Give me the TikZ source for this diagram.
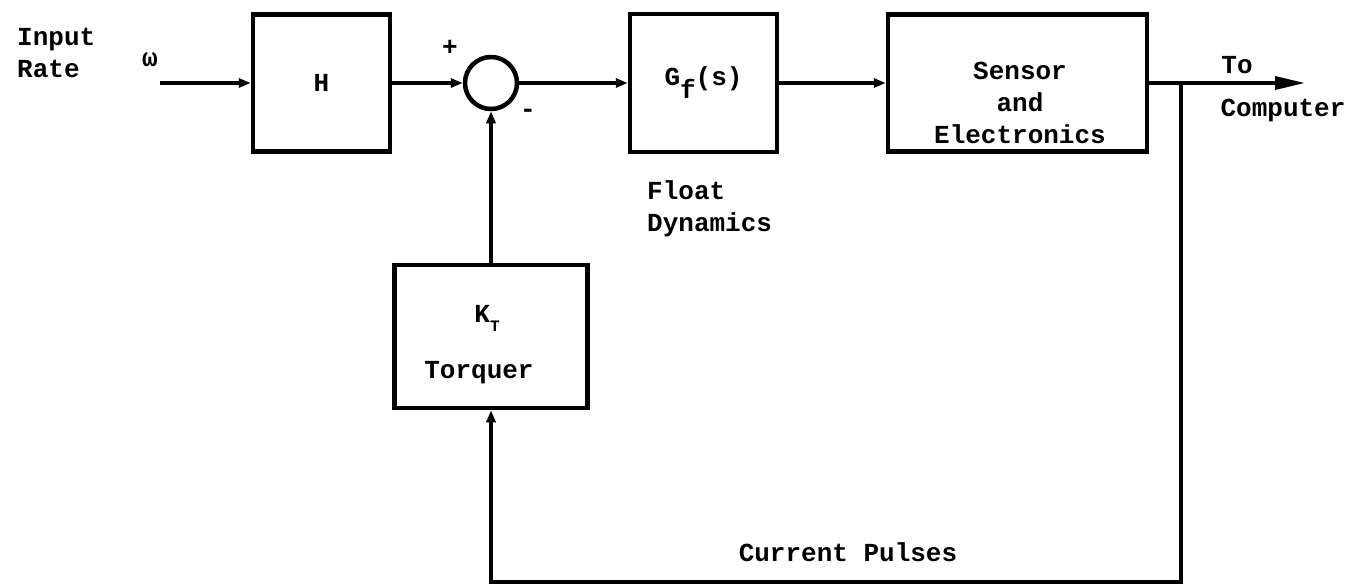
\documentclass[tikz,border=0pt]{standalone}
\usepackage{fontspec}
\setmainfont{Liberation Mono}
\usetikzlibrary{arrows.meta}
\begin{document}
\begin{tikzpicture}[x=1pt,y=-1pt,
  txt/.style={font=\fontsize{26}{32}\selectfont\bfseries, inner sep=0pt},
  blk/.style={draw, line width=4.5pt, inner sep=0pt},
  ln/.style={line width=3.5pt},
  arr/.style={ln, -{Triangle[length=12pt,width=9pt]}},
  bigarr/.style={ln, -{Triangle[length=30pt,width=13pt]}}
]
\useasboundingbox (0,0) rectangle (1352,587);
% blocks
\node[blk, txt, minimum width=137pt, minimum height=137pt] (H) at (321.5,83) {H};
\node[blk, circle, minimum size=52pt] (sum) at (491,83) {};
\node[blk, txt, minimum width=147pt, minimum height=138pt] (G) at (703.5,83) {G\raisebox{-0.5em}{f}(s)};
\node[blk, minimum width=259pt, minimum height=137pt] (S) at (1017.5,83) {};
\node[txt, align=center] (Stxt) at (1020,103) {Sensor\\and\\Electronics};
\node[blk, minimum width=193pt, minimum height=143pt] (T) at (491,336.5) {};
\node[txt] (K) at (487,318) {K\raisebox{-0.35em}{\fontsize{16}{16}\selectfont T}};
\node[txt] (Tq) at (479,373) {Torquer};
% labels
\node[txt, align=left, anchor=west] (inrate) at (17,53) {Input\\Rate};
\node[txt, font=\fontsize{26}{26}\selectfont\bfseries] (w) at (150,60) {ω};
\node[txt] (plus) at (450,48) {+};
\node[txt] (minus) at (528,113) {-};
\node[txt, align=left, anchor=west] (fd) at (647,209) {Float\\Dynamics};
\node[txt] (to) at (1237,65) {To};
\node[txt] (comp) at (1283,110) {Computer};
\node[txt] (cp) at (848,552) {Current Pulses};
% connectors
\coordinate (src) at (160,83);
\coordinate (out) at (1305,83);
\coordinate (br) at (1181,83);
\coordinate (bot) at (1181,582);
\draw[arr] (src) -- (H.west);
\draw[arr] (H.east) -- (sum.west);
\draw[arr] (sum.east) -- (G.west);
\draw[arr] (G.east) -- (S.west);
\draw[bigarr] (S.east) -- (out);
\draw[arr] (br) -- (bot) -| (T.south);
\draw[arr] (T.north) -- (sum.south);
\end{tikzpicture}
\end{document}
